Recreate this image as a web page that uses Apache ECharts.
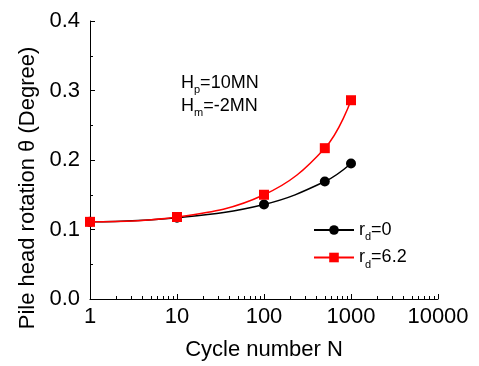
<!DOCTYPE html>
<html><head><meta charset="utf-8">
<script src="https://cdn.jsdelivr.net/npm/echarts@6/dist/echarts.min.js"></script>
<style>html,body{margin:0;padding:0;background:#fff}#c{width:479px;height:366px}</style>
</head><body><div id="c"></div>
<script>
const cycles = [1, 10, 100, 500, 1000];
const rd0 = [0.111, 0.117, 0.136, 0.169, 0.195];
const rd62 = [0.111, 0.118, 0.150, 0.217, 0.286];
const seriesNames = ['rd=0', 'rd=6.2'];
const yTicks = [0, 0.1, 0.2, 0.3, 0.4];

const chart = echarts.init(document.getElementById('c'));
const font = 'Liberation Sans, Arial, sans-serif';
const sub = {fontFamily: font, fontSize: 11, color: '#000', fill: '#000', padding: [14, 0, 0, 0]};
chart.setOption({
  animation: false,
  grid: {left: 90, right: 41, top: 21, bottom: 66},
  xAxis: {
    type: 'log', logBase: 10, min: 1, max: 10000,
    name: 'Cycle number N', nameLocation: 'middle', nameGap: 40,
    nameTextStyle: {fontFamily: font, fontSize: 22, color: '#000'},
    axisLine: {lineStyle: {color: '#000', width: 1}},
    axisTick: {inside: true, length: 5, lineStyle: {color: '#000'}},
    minorTick: {show: true, splitNumber: 9, length: 3, lineStyle: {color: '#000'}},
    splitLine: {show: false},
    axisLabel: {fontFamily: font, fontSize: 22, color: '#000', margin: 7,
      formatter: v => String(Math.round(v))}
  },
  yAxis: {
    type: 'value', min: 0, max: 0.4, interval: 0.1,
    name: 'Pile head rotation θ (Degree)', nameLocation: 'middle', nameGap: 46,
    nameTextStyle: {fontFamily: font, fontSize: 22, color: '#000', padding: [0, 56, 0, 0]},
    axisLine: {show: true, lineStyle: {color: '#000', width: 1}},
    axisTick: {show: true, inside: true, length: 5, lineStyle: {color: '#000'}},
    minorTick: {show: true, splitNumber: 2, length: 3, lineStyle: {color: '#000'}},
    splitLine: {show: false},
    axisLabel: {fontFamily: font, fontSize: 22, color: '#000', margin: 10,
      formatter: v => yTicks.includes(Math.round(v * 10) / 10) ? v.toFixed(1) : ''}
  },
  legend: {
    left: 308, top: 216, orient: 'vertical', itemWidth: 40, itemHeight: 12, itemGap: 6,
    data: seriesNames,
    formatter: n => '{a|r}{b|d}{a|' + n.slice(2) + '}',
    textStyle: {fontFamily: font, fontSize: 18, color: '#000',
      rich: {a: {fontFamily: font, fontSize: 18, color: '#000'}, b: sub}}
  },
  graphic: [{
    type: 'text', left: 181, top: 74,
    style: {rich: {a: {fontFamily: font, fontSize: 18, fill: '#000'}, b: sub},
            text: '{a|H}{b|p}{a|=10MN}', fill: '#000'}
  }, {
    type: 'text', left: 181, top: 97,
    style: {rich: {a: {fontFamily: font, fontSize: 18, fill: '#000'}, b: sub},
            text: '{a|H}{b|m}{a|=-2MN}', fill: '#000'}
  }],
  series: [{
    name: seriesNames[0], type: 'line', smooth: 0.4,
    data: cycles.map((c, i) => [c, rd0[i]]),
    symbol: 'circle', symbolSize: 10,
    itemStyle: {color: '#000'}, lineStyle: {color: '#000', width: 1.5}
  }, {
    name: seriesNames[1], type: 'line', smooth: 0.4,
    data: cycles.map((c, i) => [c, rd62[i]]),
    symbol: 'rect', symbolSize: 10,
    itemStyle: {color: '#ff0000'}, lineStyle: {color: '#ff0000', width: 1.5}
  }]
});
</script></body></html>
